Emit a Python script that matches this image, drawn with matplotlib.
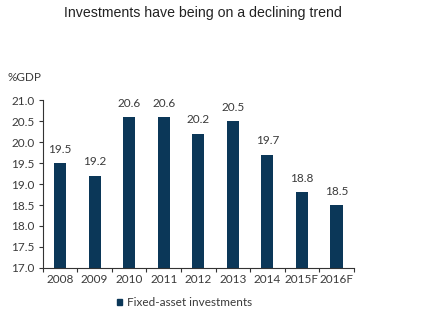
import matplotlib.pyplot as plt
import numpy as np

years = ["2008", "2009", "2010", "2011", "2012", "2013", "2014", "2015F", "2016F"]
investment = [19.5, 19.2, 20.6, 20.6, 20.2, 20.5, 19.7, 18.8, 18.5]
y_ticks = [17.0, 17.5, 18.0, 18.5, 19.0, 19.5, 20.0, 20.5, 21.0]

bar_color = "#0b3758"
text_color = "#3a3a3a"
label_font = ["Lato", "DejaVu Sans"]

fig = plt.figure(figsize=(4.33, 3.26), dpi=100)
ax = fig.add_axes([0.099, 0.178, 0.718, 0.515])

x = np.arange(len(years))
ax.bar(x, investment, width=0.35, color=bar_color, zorder=2)
for xi, v in zip(x, investment):
    ax.text(xi, v + 0.33, f"{v:.1f}", ha="center", va="center",
            fontsize=8.5, color=text_color, clip_on=False, family=label_font)

ax.set_xlim(-0.5, len(years) - 0.5)
ax.set_ylim(17.0, 21.0)
ax.set_yticks(y_ticks)
ax.set_yticklabels([f"{t:.1f}" for t in y_ticks], fontsize=8.5, color=text_color,
                   family=label_font)

# category labels centred under bars, tick marks at category boundaries
ax.set_xticks(np.arange(-0.5, len(years)), minor=False)
ax.set_xticklabels([])
ax.set_xticks(x, minor=True)
ax.set_xticklabels(years, minor=True, fontsize=8.5, color=text_color, family=label_font)
ax.tick_params(axis="x", which="minor", length=0, pad=4)
ax.tick_params(axis="x", which="major", length=3, width=0.8, color="#333333", direction="out")
ax.tick_params(axis="y", length=3, width=0.8, color="#333333", direction="out", pad=3)

for side in ["top", "right"]:
    ax.spines[side].set_visible(False)
for side in ["left", "bottom"]:
    ax.spines[side].set_color("#333333")
    ax.spines[side].set_linewidth(0.8)

fig.text(7 / 433, 1 - 78 / 326, "%GDP", fontsize=8.5, color=text_color,
         va="center", ha="left", family=label_font)

fig.text(203 / 433, 1 - 13 / 326, "Investments have being on a declining trend",
         fontsize=10.2, color="#222222", ha="center", va="center",
         family=["Liberation Sans", "DejaVu Sans"])

# legend
fig.patches.append(plt.Rectangle((117 / 433, 1 - 305 / 326), 5 / 433, 6 / 326,
                                 transform=fig.transFigure, color=bar_color))
fig.text(127 / 433, 1 - 302 / 326, "Fixed-asset investments", fontsize=8.5,
         color=text_color, va="center", ha="left", family=label_font)

fig.savefig("out.png", dpi=100)
